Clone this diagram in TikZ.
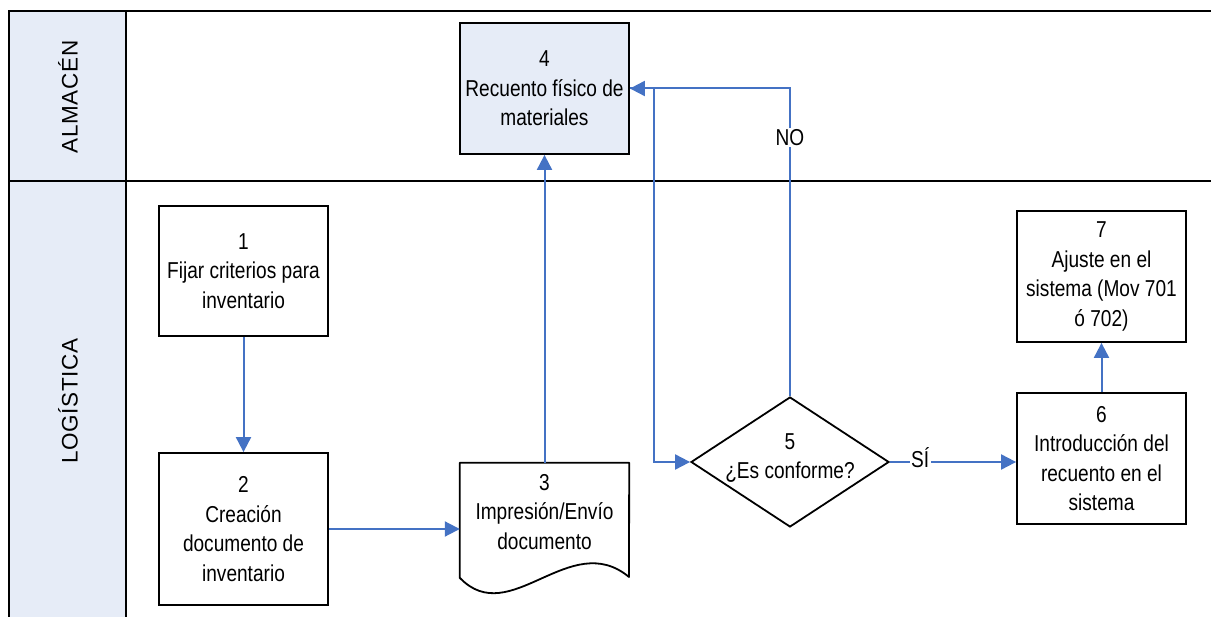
\documentclass[tikz,border=0pt]{standalone}
\usepackage{fontspec}
\setmainfont[FakeStretch=0.83]{Liberation Sans}
\newfontfamily\lanefont[LetterSpace=3]{Liberation Sans}
\usetikzlibrary{arrows.meta,shapes.geometric}
\definecolor{flowblue}{RGB}{68,114,196}
\definecolor{paleblue}{RGB}{230,236,247}
\begin{document}
\begin{tikzpicture}[x=1pt,y=-1pt,
  lane/.style={draw=black,line width=2pt},
  stepbox/.style={draw=black,line width=1.8pt,minimum width=169pt,align=center,inner sep=0pt,font=\fontsize{23}{29.5}\selectfont},
  flow/.style={draw=flowblue,line width=2pt,-{Triangle[length=15pt,width=15pt]}},
  txt/.style={align=center,inner sep=0pt,font=\fontsize{23}{29.5}\selectfont},
  lbl/.style={fill=white,inner sep=1.5pt,font=\fontsize{23}{26}\selectfont,text=black},
  lanelabel/.style={rotate=90,font=\lanefont\fontsize{22.5}{26}\selectfont}
]
\useasboundingbox (0,0) rectangle (1211,617);
% swimlanes
\fill[paleblue] (9,11) rectangle (126,617);
\draw[lane] (9,617) -- (9,11) -- (1211,11);
\draw[lane] (9,181) -- (1211,181);
\draw[lane] (126,11) -- (126,617);
\node[lanelabel] (lab1) at (68,97) {ALMACÉN};
\node[lanelabel] (lab2) at (68,401) {LOGÍSTICA};
% steps
\node[stepbox,minimum height=130pt] (box1) at (243.5,271) {1\\Fijar criterios para\\inventario};
\node[stepbox,minimum height=152pt] (box2) at (243.5,529) {2\\Creación\\documento de\\inventario};
\node[stepbox,minimum height=131pt,fill=paleblue] (box4) at (544.5,88.5) {4\\Recuento físico de\\materiales};
\node[minimum width=169pt,minimum height=115pt,inner sep=0pt] (box3) at (544.5,520.5) {};
\draw[black,line width=1.8pt,line join=round] (box3.south west) -- (box3.north west) -- (box3.north east) -- (629,577)
  .. controls (570,528) and (510,630) .. (460,578) -- cycle;
\node[txt] (t3) at (544.5,512) {3\\Impresión/Envío\\documento};
\node[diamond,draw=black,line width=1.8pt,minimum width=198pt,minimum height=130pt,inner sep=0pt] (dia) at (790,462) {};
\node[txt] (t5) at (790,458) {5\\¿Es conforme?};
\node[stepbox,minimum height=131pt] (box6) at (1101.5,458.5) {6\\Introducción del\\recuento en el\\sistema};
\node[stepbox,minimum height=131pt] (box7) at (1101.5,276.5) {7\\Ajuste en el\\sistema (Mov 701\\ó 702)};
% connectors
\draw[flow] (box1.south) -- (box2.north);
\draw[flow] (box2.east) -- (box2.east -| box3.west);
\draw[flow] (box3.north) -- (box4.south);
\draw[flow] (box4.east) -- ++(24,0) |- (dia.west);
\draw[flow] (dia.north) |- (box4.east) node[lbl,pos=0.42] {NO};
\draw[flow] (dia.east) -- (dia.east -| box6.west) node[lbl,pos=0.24,yshift=4pt] {SÍ};
\draw[flow] (box6.north) -- (box7.south);
\end{tikzpicture}
\end{document}
